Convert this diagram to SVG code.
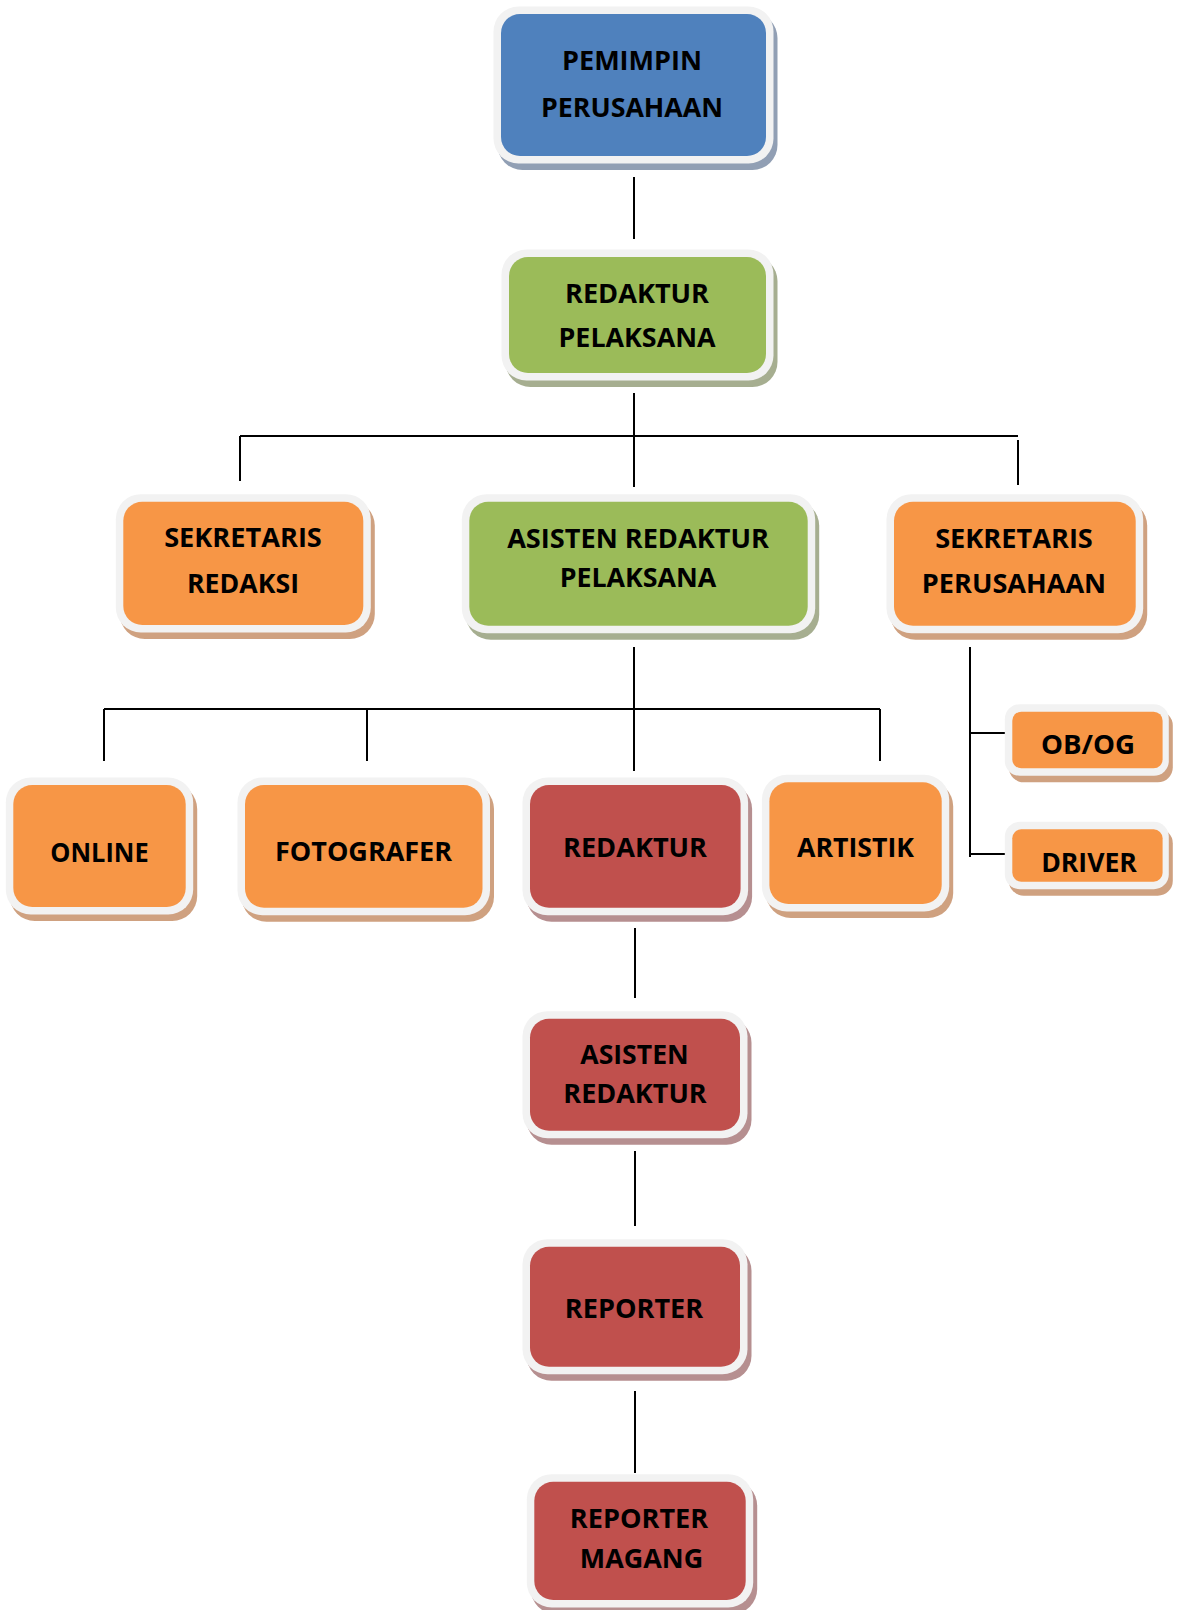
<svg xmlns="http://www.w3.org/2000/svg" width="1181" height="1610" viewBox="0 0 1181 1610">
<style>
.t{font-family:"Open Sans","Noto Sans","Liberation Sans",sans-serif;font-weight:700;font-size:27px;fill:#000;text-anchor:middle}
.fr{fill:#f2f2f2}
.blue{fill:#4f81bd}.green{fill:#9bbb59}.orange{fill:#f79646}.red{fill:#c0504d}
.sb{fill:#919fb4}.sg{fill:#a6ae90}.so{fill:#cfa180}.sr{fill:#b68f90}
.ln{stroke:#000;stroke-width:2;fill:none}
</style>
<defs>
<filter id="blur" x="-10%" y="-10%" width="120%" height="130%"><feGaussianBlur stdDeviation="0.6"/></filter>
</defs>
<g id="connectors">
<path class="ln" d="M634,177V239M634,393V487M240,436H1018M240,436V481M1018,440V485M634,647V771M104,709H880M104,709V761M367,709V761M880,709V761M970,647V857M970,733H1008M970,854H1005M635,928V998M635,1151V1226M635,1391V1473"/>
</g>
<g id="pemimpin">
<rect class="sb" filter="url(#blur)" x="497.5" y="13" width="280" height="157" rx="25"/>
<rect class="fr" x="493.5" y="6.5" width="280" height="157" rx="25"/>
<rect class="blue" x="501" y="14" width="265" height="142" rx="19"/>
<text class="t" x="632" y="70" textLength="140" lengthAdjust="spacingAndGlyphs">PEMIMPIN</text>
<text class="t" x="632" y="117" textLength="182" lengthAdjust="spacingAndGlyphs">PERUSAHAAN</text>
</g>
<g id="redaktur-pelaksana">
<rect class="sg" filter="url(#blur)" x="505.5" y="256" width="272" height="131" rx="25"/>
<rect class="fr" x="501.5" y="249.5" width="272" height="131" rx="25"/>
<rect class="green" x="509" y="257" width="257" height="116" rx="19"/>
<text class="t" x="637" y="303" textLength="144" lengthAdjust="spacingAndGlyphs">REDAKTUR</text>
<text class="t" x="637" y="347" textLength="157" lengthAdjust="spacingAndGlyphs">PELAKSANA</text>
</g>
<g id="sekretaris-redaksi">
<rect class="so" filter="url(#blur)" x="119.8" y="500.7" width="255" height="138.3" rx="25"/>
<rect class="fr" x="115.8" y="494.2" width="255" height="138.3" rx="25"/>
<rect class="orange" x="123.3" y="501.7" width="240" height="123.3" rx="19"/>
<text class="t" x="243" y="547" textLength="157.7" lengthAdjust="spacingAndGlyphs">SEKRETARIS</text>
<text class="t" x="243" y="593" textLength="112" lengthAdjust="spacingAndGlyphs">REDAKSI</text>
</g>
<g id="asisten-redaktur-pelaksana">
<rect class="sg" filter="url(#blur)" x="465.8" y="500.7" width="353.4" height="139" rx="25"/>
<rect class="fr" x="461.8" y="494.2" width="353.4" height="139" rx="25"/>
<rect class="green" x="469.3" y="501.7" width="338.4" height="124" rx="19"/>
<text class="t" x="638" y="548" textLength="261.7" lengthAdjust="spacingAndGlyphs">ASISTEN REDAKTUR</text>
<text class="t" x="638" y="587" textLength="156.7" lengthAdjust="spacingAndGlyphs">PELAKSANA</text>
</g>
<g id="sekretaris-perusahaan">
<rect class="so" filter="url(#blur)" x="890.5" y="500.7" width="256.7" height="139" rx="25"/>
<rect class="fr" x="886.5" y="494.2" width="256.7" height="139" rx="25"/>
<rect class="orange" x="894" y="501.7" width="241.7" height="124" rx="19"/>
<text class="t" x="1014" y="548" textLength="157.7" lengthAdjust="spacingAndGlyphs">SEKRETARIS</text>
<text class="t" x="1014" y="593" textLength="184.3" lengthAdjust="spacingAndGlyphs">PERUSAHAAN</text>
</g>
<g id="online">
<rect class="so" filter="url(#blur)" x="9.8" y="784" width="187.4" height="137" rx="25"/>
<rect class="fr" x="5.8" y="777.5" width="187.4" height="137" rx="25"/>
<rect class="orange" x="13.3" y="785" width="172.4" height="122" rx="19"/>
<text class="t" x="99.5" y="862" textLength="98.3" lengthAdjust="spacingAndGlyphs">ONLINE</text>
</g>
<g id="fotografer">
<rect class="so" filter="url(#blur)" x="241.5" y="784" width="252.5" height="137.7" rx="25"/>
<rect class="fr" x="237.5" y="777.5" width="252.5" height="137.7" rx="25"/>
<rect class="orange" x="245" y="785" width="237.5" height="122.7" rx="19"/>
<text class="t" x="363.5" y="861" textLength="177" lengthAdjust="spacingAndGlyphs">FOTOGRAFER</text>
</g>
<g id="redaktur">
<rect class="sr" filter="url(#blur)" x="526.5" y="784" width="225.6" height="137.7" rx="25"/>
<rect class="fr" x="522.5" y="777.5" width="225.6" height="137.7" rx="25"/>
<rect class="red" x="530" y="785" width="210.6" height="122.7" rx="19"/>
<text class="t" x="635" y="857" textLength="144" lengthAdjust="spacingAndGlyphs">REDAKTUR</text>
</g>
<g id="artistik">
<rect class="so" filter="url(#blur)" x="765.9" y="781.3" width="187.3" height="136.7" rx="25"/>
<rect class="fr" x="761.9" y="774.8" width="187.3" height="136.7" rx="25"/>
<rect class="orange" x="769.4" y="782.3" width="172.3" height="121.7" rx="19"/>
<text class="t" x="855.5" y="857" textLength="117" lengthAdjust="spacingAndGlyphs">ARTISTIK</text>
</g>
<g id="ob-og">
<rect class="so" filter="url(#blur)" x="1008.8" y="710.7" width="164" height="71.6" rx="15"/>
<rect class="fr" x="1004.8" y="704.2" width="164" height="71.6" rx="15"/>
<rect class="orange" x="1012.3" y="711.7" width="150.3" height="56.6" rx="9"/>
<text class="t" x="1088" y="754" textLength="94" lengthAdjust="spacingAndGlyphs">OB/OG</text>
</g>
<g id="driver">
<rect class="so" filter="url(#blur)" x="1008.8" y="828.3" width="164" height="67.4" rx="15"/>
<rect class="fr" x="1004.8" y="821.8" width="164" height="67.4" rx="15"/>
<rect class="orange" x="1012.3" y="829.3" width="150.3" height="52.4" rx="9"/>
<text class="t" x="1089" y="872" textLength="95.7" lengthAdjust="spacingAndGlyphs">DRIVER</text>
</g>
<g id="asisten-redaktur">
<rect class="sr" filter="url(#blur)" x="526.5" y="1017.7" width="225" height="127" rx="25"/>
<rect class="fr" x="522.5" y="1011.2" width="225" height="127" rx="25"/>
<rect class="red" x="530" y="1018.7" width="210" height="112" rx="19"/>
<text class="t" x="634.5" y="1064" textLength="108.3" lengthAdjust="spacingAndGlyphs">ASISTEN</text>
<text class="t" x="635" y="1103" textLength="143.3" lengthAdjust="spacingAndGlyphs">REDAKTUR</text>
</g>
<g id="reporter">
<rect class="sr" filter="url(#blur)" x="526.5" y="1245.7" width="225" height="135" rx="25"/>
<rect class="fr" x="522.5" y="1239.2" width="225" height="135" rx="25"/>
<rect class="red" x="530" y="1246.7" width="210" height="120" rx="19"/>
<text class="t" x="634" y="1318" textLength="138.3" lengthAdjust="spacingAndGlyphs">REPORTER</text>
</g>
<g id="reporter-magang">
<rect class="sr" filter="url(#blur)" x="530.8" y="1480.7" width="226.4" height="133.3" rx="25"/>
<rect class="fr" x="526.8" y="1474.2" width="226.4" height="133.3" rx="25"/>
<rect class="red" x="534.3" y="1481.7" width="211.4" height="118.3" rx="19"/>
<text class="t" x="639" y="1528" textLength="138.3" lengthAdjust="spacingAndGlyphs">REPORTER</text>
<text class="t" x="641.5" y="1568" textLength="123.3" lengthAdjust="spacingAndGlyphs">MAGANG</text>
</g>
</svg>
